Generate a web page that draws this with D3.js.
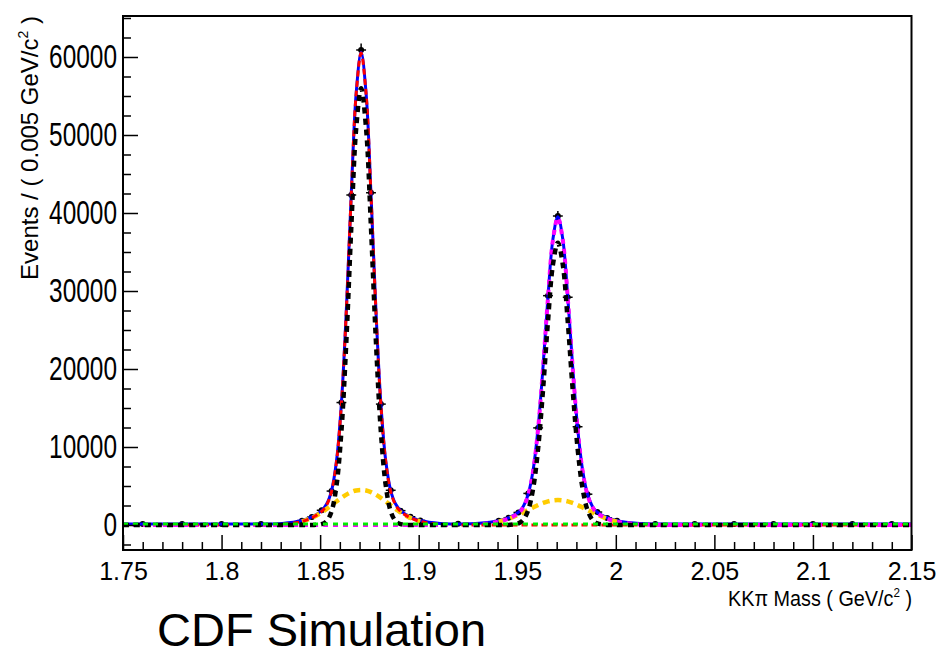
<!DOCTYPE html>
<html>
<head>
<meta charset="utf-8">
<script src="https://cdn.jsdelivr.net/npm/d3@7"></script>
<style>
  body { margin: 0; background: #fff; }
  text { font-family: "Liberation Sans", Arial, Helvetica, sans-serif; fill: #000; }
</style>
</head>
<body>
<svg id="chart" width="939" height="655"></svg>
<script>
// KK-pi mass axis, ticks
const xMajorTicks = [1.75, 1.8, 1.85, 1.9, 1.95, 2.0, 2.05, 2.1, 2.15];
const xTickLabels = ["1.75", "1.8", "1.85", "1.9", "1.95", "2", "2.05", "2.1", "2.15"];
const yMajorTicks = [0, 10000, 20000, 30000, 40000, 50000, 60000];
const yTickLabels = ["0", "10000", "20000", "30000", "40000", "50000", "60000"];

// data points (events per bin), bin widths and errors
const dataMass = [1.76, 1.78, 1.80, 1.82,
  1.8408, 1.8458, 1.8508, 1.8558, 1.8608, 1.8658, 1.8708, 1.8758, 1.8808, 1.8858, 1.8908, 1.8958, 1.9008,
  1.92,
  1.9406, 1.9456, 1.9506, 1.9556, 1.9606, 1.9656, 1.9706, 1.9756, 1.9806, 1.9856, 1.9906, 1.9956, 2.0006,
  2.02, 2.04, 2.06, 2.08, 2.10, 2.12, 2.14];
const dataEvents = [125, 118, 122, 130,
  560, 1010, 1890, 4350, 15700, 42300, 60900, 42600, 15500, 4450, 1840, 1060, 590,
  150,
  560, 940, 1610, 4050, 12450, 29400, 39600, 29200, 12600, 3950, 1660, 910, 540,
  135, 120, 118, 121, 119, 122, 118];
const dataErr = [40, 40, 40, 40,
  80, 110, 150, 230, 420, 690, 820, 690, 420, 230, 150, 110, 80,
  45,
  80, 100, 140, 210, 370, 570, 660, 570, 370, 210, 140, 100, 80,
  40, 40, 40, 40, 40, 40, 40];
const dataBinWidth = [0.02, 0.02, 0.02, 0.02,
  0.005, 0.005, 0.005, 0.005, 0.005, 0.005, 0.005, 0.005, 0.005, 0.005, 0.005, 0.005, 0.005,
  0.02,
  0.005, 0.005, 0.005, 0.005, 0.005, 0.005, 0.005, 0.005, 0.005, 0.005, 0.005, 0.005, 0.005,
  0.02, 0.02, 0.02, 0.02, 0.02, 0.02, 0.02];

// fit curves sampled on a common mass grid
const massGrid = [1.750, 1.790, 1.820,
  1.8308, 1.8408, 1.8458, 1.8508, 1.8533, 1.8558, 1.8583, 1.8608, 1.8633, 1.8658, 1.8683, 1.8708,
  1.8733, 1.8758, 1.8783, 1.8808, 1.8833, 1.8858, 1.8883, 1.8908, 1.8958, 1.9008, 1.9108,
  1.9206, 1.9306, 1.9406, 1.9456, 1.9506, 1.9531, 1.9556, 1.9581, 1.9606, 1.9631, 1.9656, 1.9681, 1.9706,
  1.9731, 1.9756, 1.9781, 1.9806, 1.9831, 1.9856, 1.9881, 1.9906, 1.9956, 2.0006, 2.0106, 2.0206,
  2.060, 2.100, 2.150];
// total fit (blue)
const totalFit = [120, 120, 127,
  196, 573, 1038, 1861, 2683, 4408, 8198, 15625, 27583, 42456, 55414, 60620,
  55414, 42456, 27583, 15625, 8198, 4408, 2683, 1861, 1038, 573, 197,
  140, 211, 553, 929, 1635, 2414, 4001, 7123, 12539, 20360, 29298, 36649, 39520,
  36649, 29298, 20360, 12539, 7123, 4001, 2414, 1635, 929, 553, 211, 132,
  120, 120, 120];
// D+ signal (red)
const dplusFit = [0, 0, 7,
  76, 453, 918, 1741, 2563, 4288, 8078, 15505, 27463, 42336, 55294, 60500,
  55294, 42336, 27463, 15505, 8078, 4288, 2563, 1741, 918, 453, 76,
  8, 0, 0, 0, 0, 0, 0, 0, 0, 0, 0, 0, 0,
  0, 0, 0, 0, 0, 0, 0, 0, 0, 0, 0, 0,
  0, 0, 0];
// Ds signal (magenta)
const dsFit = [0, 0, 0,
  0, 0, 0, 0, 0, 0, 0, 0, 0, 0, 0, 0,
  0, 0, 0, 0, 0, 0, 0, 0, 0, 0, 1,
  12, 91, 433, 809, 1515, 2294, 3881, 7003, 12419, 20240, 29178, 36529, 39400,
  36529, 29178, 20240, 12419, 7003, 3881, 2294, 1515, 809, 433, 91, 12,
  0, 0, 0];
// narrow gaussians (black)
const narrowFit = [0, 0, 0,
  0, 0, 4, 119, 503, 1753, 5057, 12018, 23565, 38114, 50865, 56000,
  50865, 38114, 23565, 12018, 5057, 1753, 503, 119, 4, 0, 0,
  0, 0, 0, 11, 199, 674, 1940, 4742, 9857, 17416, 26151, 33373, 36200,
  33373, 26151, 17416, 9857, 4742, 1940, 674, 199, 11, 0, 0, 0,
  0, 0, 0];
// wide gaussians (yellow), drawn only under the peaks
const wideFit = [null, null, null,
  null, 453, 914, 1622, 2060, 2535, 3021, 3487, 3898, 4222, 4429, 4500,
  4429, 4222, 3898, 3487, 3021, 2535, 2060, 1622, 914, 453, null,
  null, null, 433, 798, 1316, 1620, 1941, 2261, 2562, 2824, 3027, 3156, 3200,
  3156, 3027, 2824, 2562, 2261, 1941, 1620, 1316, 798, 433, null, null,
  null, null, null];
// combinatorial background (green)
const bkgMass = [1.75, 2.15];
const bkgFit = [120, 120];

const svg = d3.select("#chart");
const frame = { left: 123, right: 911.5, top: 16, bottom: 550 };

const x = d3.scaleLinear().domain([1.75, 2.15]).range([frame.left, frame.right]);
const y = d3.scaleLinear().domain([-3205, 65256]).range([frame.bottom, frame.top]);

svg.append("defs").append("clipPath").attr("id", "plotClip")
  .append("rect")
  .attr("x", frame.left).attr("y", frame.top)
  .attr("width", frame.right - frame.left).attr("height", frame.bottom - frame.top);

const plot = svg.append("g").attr("clip-path", "url(#plotClip)");

// data points with error bars
const pts = plot.append("g").attr("class", "data");
dataMass.forEach((m, i) => {
  pts.append("line")
    .attr("x1", x(m)).attr("x2", x(m))
    .attr("y1", y(dataEvents[i] - dataErr[i])).attr("y2", y(dataEvents[i] + dataErr[i]))
    .attr("stroke", "#000").attr("stroke-width", 1.5);
  pts.append("line")
    .attr("x1", x(m - dataBinWidth[i] / 2)).attr("x2", x(m + dataBinWidth[i] / 2))
    .attr("y1", y(dataEvents[i])).attr("y2", y(dataEvents[i]))
    .attr("stroke", "#000").attr("stroke-width", 1.5);
  pts.append("circle")
    .attr("cx", x(m)).attr("cy", y(dataEvents[i]))
    .attr("r", 3).attr("fill", "#000");
});

function curve(values, xs = massGrid) {
  return d3.line()
    .defined((d) => d !== null)
    .x((d, i) => x(xs[i]))
    .y((d) => y(d))
    .curve(d3.curveCatmullRom.alpha(0.5))(values);
}

const curves = [
  { values: totalFit, color: "#0000ff", width: 3, dash: null },
  { values: wideFit, color: "#ffcc00", width: 4.5, dash: "7,5" },
  { values: dplusFit, color: "#ff0000", width: 3, dash: "6,4" },
  { values: dsFit, color: "#ff00ff", width: 4, dash: "5,5" },
  { values: narrowFit, color: "#000000", width: 4.5, dash: "6,5" },
  { values: bkgFit, xs: bkgMass, color: "#00ee00", width: 3, dash: "5,5" },
];

curves.forEach((c) => {
  plot.append("path")
    .attr("d", curve(c.values, c.xs))
    .attr("fill", "none")
    .attr("stroke", c.color)
    .attr("stroke-width", c.width)
    .attr("stroke-dasharray", c.dash);
});

// axes, ticks pointing inside the frame
const xMinorTicks = d3.range(176, 215).map((v) => v / 100).filter((v) => !xMajorTicks.some((t) => Math.abs(t - v) < 1e-6));
const yMinorTicks = d3.range(-2500, 65001, 2500).filter((v) => v % 10000 !== 0);

const xAxis = svg.append("g")
  .attr("transform", `translate(0,${frame.bottom})`)
  .call(d3.axisBottom(x).tickValues(xMajorTicks).tickSizeInner(-15).tickSizeOuter(0)
    .tickPadding(12).tickFormat((d, i) => xTickLabels[i]));
xAxis.select(".domain").remove();
xAxis.selectAll("line").attr("stroke-width", 1.5);
xAxis.selectAll("text").style("font-size", "25px");

const xAxisMinor = svg.append("g")
  .attr("transform", `translate(0,${frame.bottom})`)
  .call(d3.axisBottom(x).tickValues(xMinorTicks).tickSizeInner(-8).tickSizeOuter(0).tickFormat(""));
xAxisMinor.select(".domain").remove();
xAxisMinor.selectAll("line").attr("stroke-width", 1.5);

const yAxis = svg.append("g")
  .attr("transform", `translate(${frame.left},0)`)
  .call(d3.axisLeft(y).tickValues(yMajorTicks).tickSizeInner(-15).tickSizeOuter(0)
    .tickPadding(6).tickFormat((d, i) => yTickLabels[i]));
yAxis.select(".domain").remove();
yAxis.selectAll("line").attr("stroke-width", 1.5);
yAxis.selectAll("text")
  .attr("x", 0)
  .attr("transform", "translate(-6,0) scale(0.74,1)")
  .style("font-size", "33px");

const yAxisMinor = svg.append("g")
  .attr("transform", `translate(${frame.left},0)`)
  .call(d3.axisLeft(y).tickValues(yMinorTicks).tickSizeInner(-8).tickSizeOuter(0).tickFormat(""));
yAxisMinor.select(".domain").remove();
yAxisMinor.selectAll("line").attr("stroke-width", 1.5);

// frame
svg.append("rect")
  .attr("x", frame.left).attr("y", frame.top)
  .attr("width", frame.right - frame.left).attr("height", frame.bottom - frame.top)
  .attr("fill", "none").attr("stroke", "#000").attr("stroke-width", 2);

// axis titles
const xTitle = svg.append("text")
  .attr("transform", "translate(912,606) scale(0.9,1)")
  .attr("text-anchor", "end")
  .style("font-size", "22px");
xTitle.append("tspan").text("KK\u03c0 Mass ( GeV/c");
xTitle.append("tspan").attr("dy", -9).style("font-size", "13px").text("2");
xTitle.append("tspan").attr("dy", 9).text(" )");

const yTitle = svg.append("text")
  .attr("transform", "translate(38,16) rotate(-90)")
  .attr("text-anchor", "end")
  .style("font-size", "24px");
yTitle.append("tspan").text("Events / ( 0.005 GeV/c");
yTitle.append("tspan").attr("dy", -10).style("font-size", "14px").text("2");
yTitle.append("tspan").attr("dy", 10).text(" )");

svg.append("text")
  .attr("x", 157).attr("y", 646)
  .style("font-size", "47px")
  .text("CDF Simulation");
</script>
</body>
</html>
